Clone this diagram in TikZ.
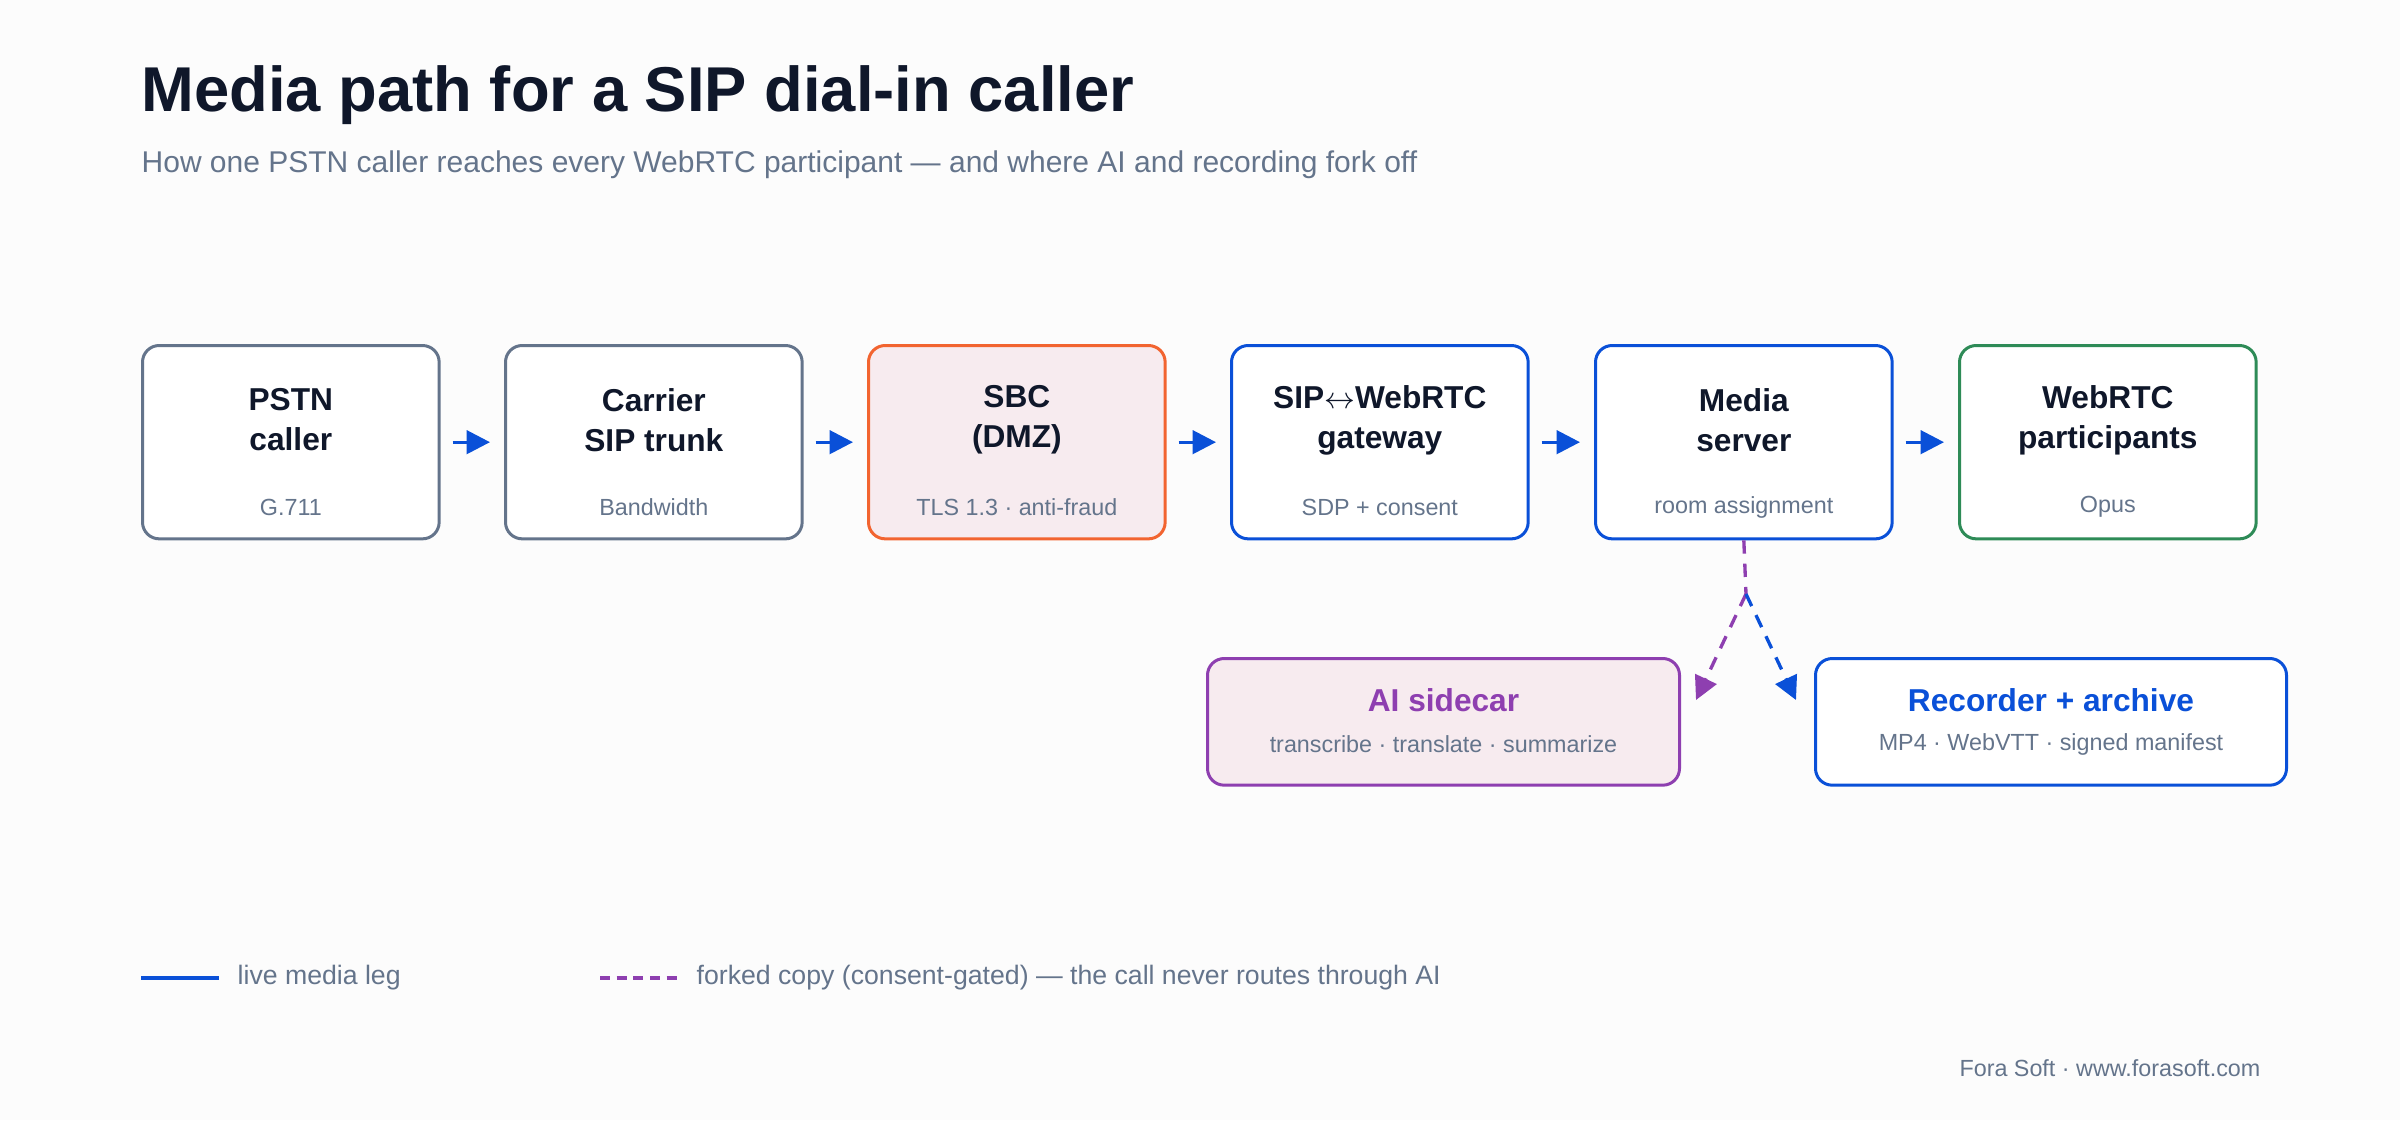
\documentclass[tikz,border=0pt]{standalone}
\usepackage{fontspec}
\setmainfont{Liberation Sans}
\usetikzlibrary{arrows.meta}
\definecolor{ink}{HTML}{0F172A}
\definecolor{mute}{HTML}{64748B}
\definecolor{blu}{HTML}{0A50D8}
\definecolor{org}{HTML}{F26430}
\definecolor{pnk}{HTML}{F7EBEF}
\definecolor{pur}{HTML}{8E3FB0}
\definecolor{grn}{HTML}{2E8B57}
\begin{document}
\begin{tikzpicture}[x=0.3pt,y=-0.3pt,
 box/.style={draw,line width=0.9pt,rounded corners=5pt,minimum width=89pt,minimum height=58pt,anchor=north west,fill=white},
 bt/.style={font=\fontsize{9.5}{12}\selectfont\bfseries,text=ink,align=center},
 bs/.style={font=\fontsize{7}{8}\selectfont,text=mute},
 arr/.style={blu,line width=1pt,-{Triangle[length=7pt,width=7pt]}},
 fork/.style={line width=1pt,dash pattern=on 4pt off 3pt,-{Triangle[length=7pt,width=7pt]}}]
\fill[white!98!gray] (0,0) rectangle (2400,1120);
\node[anchor=base west,font=\fontsize{19}{22}\selectfont\bfseries,text=ink,inner sep=0] (t) at (141,111) {Media path for a SIP dial-in caller};
\node[anchor=base west,font=\fontsize{9}{11}\selectfont,text=mute,inner sep=0] (st) at (141,172) {How one PSTN caller reaches every WebRTC participant — and where AI and recording fork off};
\foreach \n/\x/\c/\f/\a/\b/\s in {
 a/141/mute/white/PSTN/caller/G.711,
 b/504/mute/white/Carrier/SIP trunk/Bandwidth / Twilio,
 c/867/org/pnk/SBC/(DMZ)/TLS 1.3 · anti-fraud,
 d/1230/blu/white/SIP$\leftrightarrow$WebRTC/gateway/SDP + consent,
 e/1594/blu/white/Media/server/room assignment,
 f/1958/grn/white/WebRTC/participants/Opus / VP9}{
 \node[box,draw=\c,fill=\f] (\n) at (\x,344) {};
 \node[bt] (\n t) at ([yshift=-0.3pt*76]\n.north) {\a\\\b};
 \node[bs] (\n s) at ([yshift=-0.3pt*163]\n.north) {\s};
}
\foreach \p/\q in {a/b,b/c,c/d,d/e,e/f}
 \draw[arr] (\p.east) ++(12,0) coordinate (\p x) -- ([xshift=-0.3pt*14]\q.west);
\node[box,draw=pur,fill=pnk,minimum width=141.6pt,minimum height=38pt] (g) at (1206,657) {};
\node[font=\fontsize{9.5}{12}\selectfont\bfseries,text=pur] (gt) at ([yshift=-0.3pt*43]g.north) {AI sidecar};
\node[bs] (gs) at ([yshift=-0.3pt*87]g.north) {transcribe · translate · summarize};
\node[box,draw=blu,minimum width=141.3pt,minimum height=38pt] (h) at (1814,657) {};
\node[font=\fontsize{9.5}{12}\selectfont\bfseries,text=blu] (ht) at ([yshift=-0.3pt*43]h.north) {Recorder + archive};
\node[bs] (hs) at ([yshift=-0.3pt*87]h.north) {MP4 · WebVTT · signed manifest};
\coordinate (k) at (1746,594);
\coordinate (kg) at (1696,700);
\coordinate (kh) at (1796,700);
\draw[pur,line width=1pt,dash pattern=on 4pt off 3pt] (e.south) -- (k);
\draw[fork,pur] (k) -- (kg);
\draw[fork,blu] (k) -- (kh);
\coordinate (l1) at (141,978); \coordinate (l2) at (219,978);
\draw[blu,line width=1pt] (l1) -- (l2);
\node[anchor=west,font=\fontsize{8}{10}\selectfont,text=mute,inner sep=0] (lt1) at (237,978) {live media leg};
\coordinate (l3) at (600,978); \coordinate (l4) at (680,978);
\draw[pur,line width=1pt,dash pattern=on 3pt off 2pt] (l3) -- (l4);
\node[anchor=west,font=\fontsize{8}{10}\selectfont,text=mute,inner sep=0] (lt2) at (696,978) {forked copy (consent-gated) — the call never routes through AI};
\node[anchor=east,font=\fontsize{7}{9}\selectfont,text=mute,inner sep=0] (ft) at (2261,1068) {Fora Soft · www.forasoft.com};
\end{tikzpicture}
\end{document}
